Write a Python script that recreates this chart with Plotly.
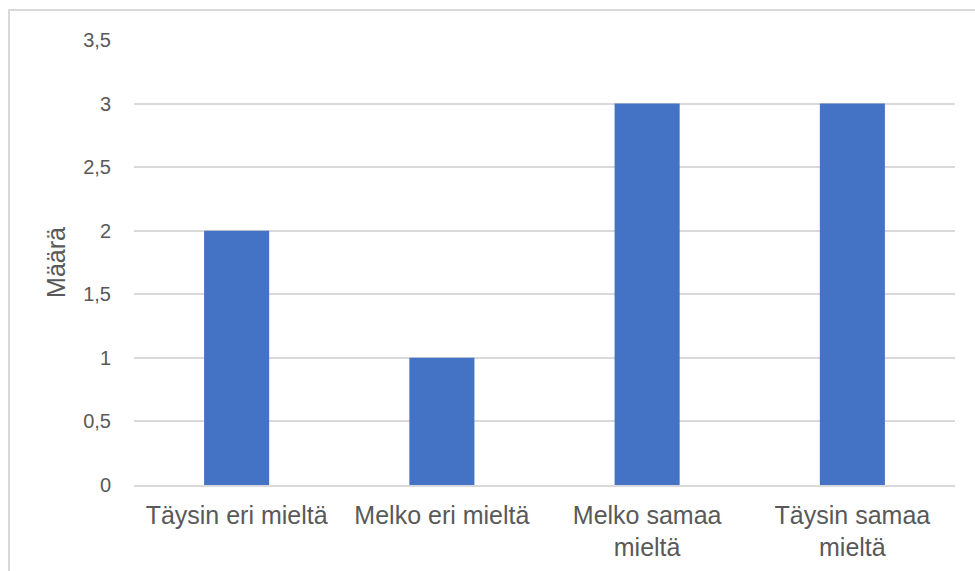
import plotly.graph_objects as go

categories = ["Täysin eri mieltä", "Melko eri mieltä", "Melko samaa<br>mieltä", "Täysin samaa<br>mieltä"]
values = [2, 1, 3, 3]
tick_vals = [0, 0.5, 1, 1.5, 2, 2.5, 3, 3.5]
tick_text = ["0", "0,5", "1", "1,5", "2", "2,5", "3", "3,5"]

L, R, T, B = 134, 20, 40, 86
W, H = 975, 571
pw, ph = W - L - R, H - T - B
FONT = "Liberation Sans, Arial, sans-serif"

fig = go.Figure()
fig.add_trace(go.Bar(x=categories, y=values, marker=dict(color="#4472C4", line=dict(width=0)), width=0.317))

fig.update_layout(
    width=W, height=H,
    margin=dict(l=L, r=R, t=T, b=B, pad=0),
    paper_bgcolor="white", plot_bgcolor="white",
    font=dict(family=FONT, color="#595959", size=20),
    separators=", ",
    showlegend=False,
    bargap=0.683,
)
fig.update_yaxes(
    range=[0, 3.5], tickvals=tick_vals, ticktext=tick_text,
    showgrid=True, gridcolor="#d9d9d9", gridwidth=1.5,
    zeroline=False, showline=False, ticks="",
    ticklabelstandoff=22, automargin=False,
    tickfont=dict(size=20, color="#595959"),
    title=dict(text="Määrä", font=dict(size=25, color="#595959"), standoff=10),
)
fig.update_xaxes(
    showline=True, linecolor="#d9d9d9", linewidth=1.5,
    ticks="", showgrid=False, automargin=False,
    tickfont=dict(size=25, color="#595959"),
    ticklabelstandoff=7,
)
fig.add_shape(type="rect", xref="paper", yref="paper",
              x0=(9 - L) / pw, x1=(990 - L) / pw,
              y0=-(H + 20 - (H - B)) / ph, y1=((H - B) - 10) / ph,
              line=dict(color="#d9d9d9", width=2), fillcolor="rgba(0,0,0,0)", layer="below")

fig.write_html("out.html")
